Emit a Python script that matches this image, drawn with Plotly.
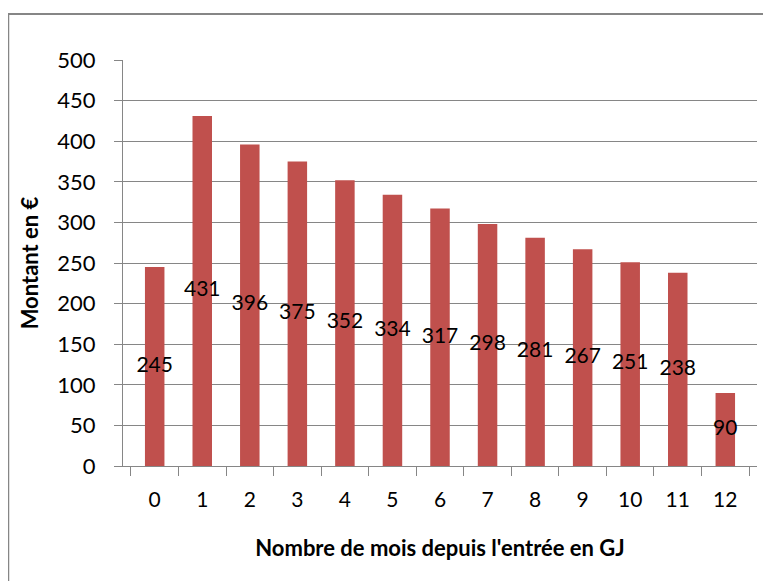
import plotly.graph_objects as go

# months since entry and amounts in euros
mois = ["0", "1", "2", "3", "4", "5", "6", "7", "8", "9", "10", "11", "12"]
montants = [245, 431, 396, 375, 352, 334, 317, 298, 281, 267, 251, 238, 90]

GRIS = "#868686"
ROUGE = "#C0504D"
FONT = "Lato, Calibri, Carlito, sans-serif"

fig = go.Figure()
fig.add_trace(go.Bar(x=mois, y=montants, marker_color=ROUGE, marker_line_width=0,
                     hoverinfo="x+y"))
# value labels sit at mid-height of each bar
fig.add_trace(go.Scatter(x=mois, y=[v / 2 for v in montants], mode="text",
                         text=[str(v) for v in montants],
                         textfont=dict(size=21, color="black", family=FONT),
                         hoverinfo="skip"))

# the page body has an 8px margin, so the figure is a bit smaller than the window
fig.update_layout(
    width=763, height=573,
    margin=dict(l=115, r=14, t=52, b=115),
    paper_bgcolor="white", plot_bgcolor="white",
    showlegend=False,
    bargap=0.59,
    font=dict(family=FONT, color="black"),
    shapes=[dict(type="rect", xref="paper", yref="paper",
                 x0=-0.181, x1=1.5, y0=-0.4, y1=1.113,
                 line=dict(color=GRIS, width=2), layer="below")],
)
fig.update_xaxes(
    type="category", showline=True, linecolor=GRIS, linewidth=1,
    ticks="outside", tickson="boundaries", ticklen=9, tickcolor=GRIS,
    tickfont=dict(size=21), ticklabelstandoff=15,
    title=dict(text="<b>Nombre de mois depuis l'entrée en GJ</b>",
               font=dict(size=22), standoff=30),
    showgrid=False,
)
fig.update_yaxes(
    range=[0, 500], dtick=50, showline=True, linecolor=GRIS, linewidth=1,
    ticks="outside", ticklen=8, tickcolor=GRIS,
    tickfont=dict(size=22), ticklabelstandoff=14,
    showgrid=True, gridcolor=GRIS, gridwidth=1, zeroline=False,
    title=dict(text="<b>Montant en €</b>", font=dict(size=22), standoff=12),
)

fig.write_html("out.html")
